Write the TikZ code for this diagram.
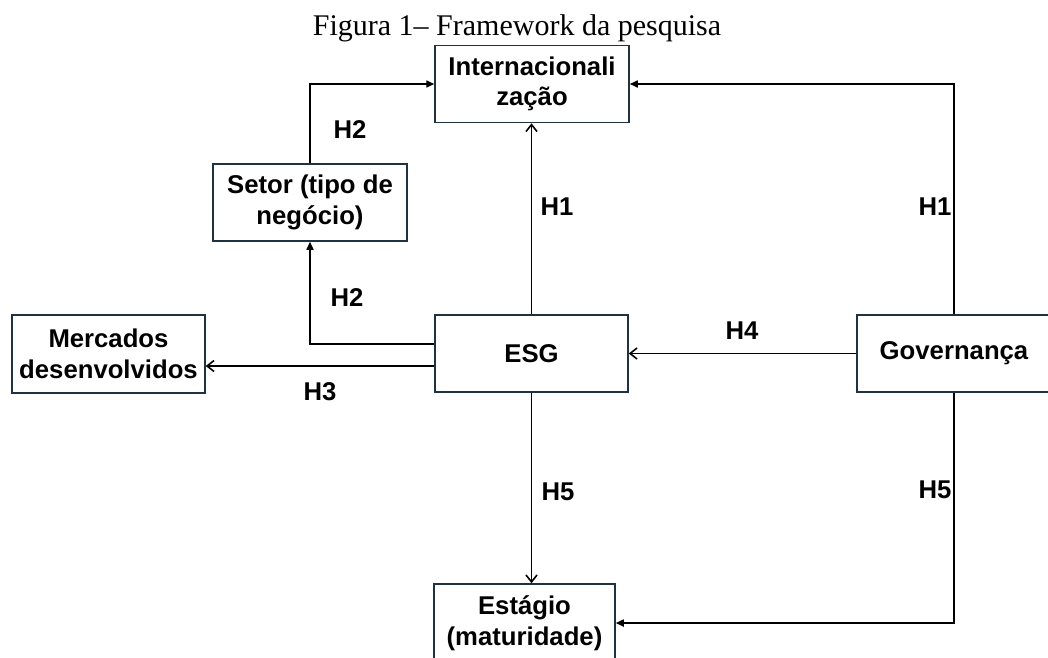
\documentclass[tikz,border=0pt]{standalone}
\usepackage{fontspec}
\setmainfont{Liberation Serif}
\newfontfamily\boxfont{Liberation Sans}
\usetikzlibrary{arrows.meta}
\definecolor{boxline}{RGB}{30,50,66}

\begin{document}
\begin{tikzpicture}[x=1pt, y=-1pt,
	box/.style={draw=boxline, line width=1.5pt, align=center, inner sep=0pt,
		minimum width=194pt, minimum height=77pt,
		font=\boxfont\fontsize{25.7}{30.5}\selectfont\bfseries},
	hlabel/.style={font=\boxfont\fontsize{25.7}{30.5}\selectfont\bfseries, inner sep=0pt},
	link/.style={line width=1.6pt, -{Straight Barb[length=7pt,width=11pt]}},
	elbow/.style={line width=1.6pt, -{Triangle[length=8pt,width=7pt]}}]

	\useasboundingbox (0,0) rectangle (1048,657);
	\clip (0,0) rectangle (1048,657);

	\node[anchor=base, font=\fontsize{30}{36}\selectfont] (title) at (517,35) {Figura 1-- Framework da pesquisa};

	\node[box] (inter) at (532,84) {Internacionali\\za\c{c}\~ao};
	\node[box] (setor) at (310,202.5) {Setor (tipo de\\neg\'ocio)};
	\node[box, minimum width=193pt, minimum height=78pt] (merc) at (108.5,354) {Mercados\\desenvolvidos};
	\node[box, minimum width=193pt] (esg) at (531.5,353.5) {ESG};
	\node[box] (gov) at (954,353.5) {Governan\c{c}a};
	\node[box, minimum width=181pt, minimum height=78pt] (estagio) at (524.5,623) {Est\'agio\\(maturidade)};

	\draw[elbow] (setor.north) |- (inter.west);
	\draw[elbow] (gov.north) |- (inter.east);
	\draw[link] (esg.north) -- (esg.north |- inter.south);
	\draw[elbow] ([yshift=9.5pt]esg.west) -| (setor.south);
	\draw[link] ([yshift=-12.5pt]esg.west) -- ([yshift=-12pt]merc.east);
	\draw[link] (gov.west) -- (esg.east);
	\draw[link] (esg.south) -- (esg.south |- estagio.north);
	\draw[elbow] (gov.south) |- (estagio.east);

	\node[hlabel] (h2a) at (350,130) {H2};
	\node[hlabel] (h1a) at (557,207) {H1};
	\node[hlabel] (h1b) at (935,207) {H1};
	\node[hlabel] (h2b) at (347,298) {H2};
	\node[hlabel] (h3) at (320,392) {H3};
	\node[hlabel] (h4) at (742,331) {H4};
	\node[hlabel] (h5a) at (558,492) {H5};
	\node[hlabel] (h5b) at (935,490) {H5};

\end{tikzpicture}
\end{document}
